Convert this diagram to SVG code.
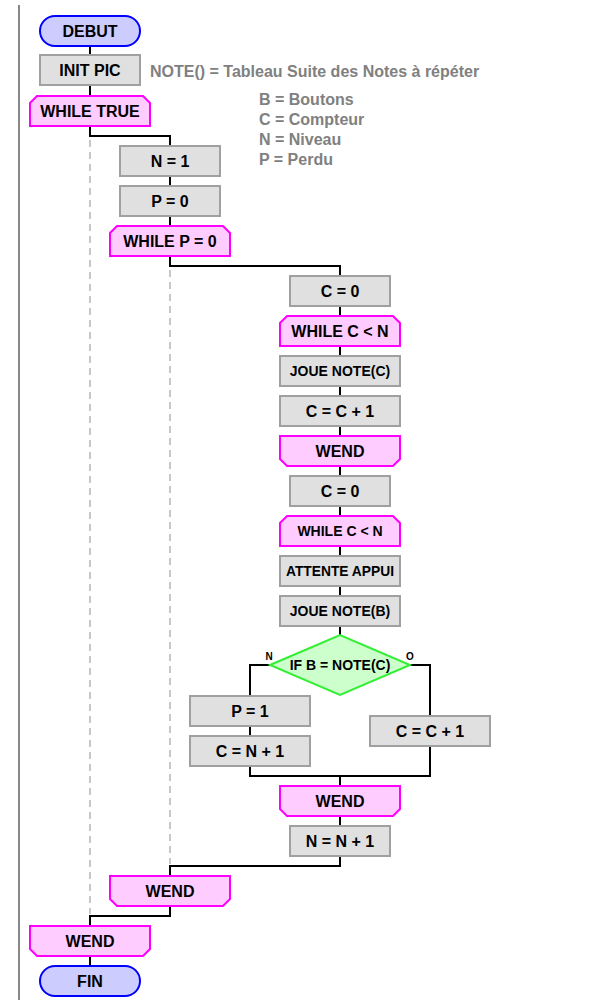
<svg xmlns="http://www.w3.org/2000/svg" width="600" height="1000" viewBox="0 0 600 1000">
<style>
.t{font-family:"Liberation Sans",Arial,sans-serif;font-weight:bold;font-size:16px;fill:#000;text-anchor:middle}
.s14{font-size:14px}
.s13{font-size:13.8px}
.box{fill:#e0e0e0;stroke:#a0a0a0;stroke-width:2}
.loop{fill:#ffccff;stroke:#ff00ff;stroke-width:2}
.term{fill:#ccccff;stroke:#0000ff;stroke-width:2}
.dec{fill:#ccffcc;stroke:#33ee33;stroke-width:2}
.c{fill:none;stroke:#000;stroke-width:2}
.d{fill:none;stroke:#c8c8c8;stroke-width:2;stroke-dasharray:7,5}
.note{font-family:"Liberation Sans",Arial,sans-serif;font-weight:bold;font-size:16px;fill:#808080}
.lbl{font-family:"Liberation Sans",Arial,sans-serif;font-weight:bold;font-size:10px;fill:#000;text-anchor:middle}
</style>
<rect x="0" y="0" width="600" height="1000" fill="#fff"/>
<line x1="19" y1="5" x2="19" y2="1000" stroke="#888" stroke-width="2"/>
<g id="guides">
<line class="d" x1="90" y1="140" x2="90" y2="914"/>
<line class="d" x1="170" y1="270" x2="170" y2="864"/>
</g>
<g id="connectors">
<polyline class="c" points="90,46 90,55"/>
<polyline class="c" points="90,85 90,96"/>
<polyline class="c" points="90,126 90,136 170,136 170,146"/>
<polyline class="c" points="170,176 170,186"/>
<polyline class="c" points="170,216 170,226"/>
<polyline class="c" points="170,256 170,266 340,266 340,276"/>
<polyline class="c" points="340,306 340,316"/>
<polyline class="c" points="340,346 340,356"/>
<polyline class="c" points="340,386 340,396"/>
<polyline class="c" points="340,426 340,436"/>
<polyline class="c" points="340,466 340,476"/>
<polyline class="c" points="340,506 340,516"/>
<polyline class="c" points="340,546 340,556"/>
<polyline class="c" points="340,586 340,596"/>
<polyline class="c" points="340,626 340,635"/>
<polyline class="c" points="270,665 250,665 250,696"/>
<polyline class="c" points="250,726 250,736"/>
<polyline class="c" points="410,665 430,665 430,716"/>
<polyline class="c" points="250,766 250,776 430,776 430,746"/>
<polyline class="c" points="340,776 340,786"/>
<polyline class="c" points="340,816 340,826"/>
<polyline class="c" points="340,856 340,866 170,866 170,876"/>
<polyline class="c" points="170,906 170,916 90,916 90,926"/>
<polyline class="c" points="90,956 90,966"/>
</g>
<g id="legend">
<text class="note" x="150" y="77">NOTE() = Tableau Suite des Notes à répéter</text>
<text class="note" x="259" y="105">B = Boutons</text>
<text class="note" x="259" y="125">C = Compteur</text>
<text class="note" x="259" y="145">N = Niveau</text>
<text class="note" x="259" y="165">P = Perdu</text>
</g>
<g id="debut"><rect class="term" x="40" y="16" width="100" height="30" rx="15"/><text class="t" x="90" y="37">DEBUT</text></g>
<g id="initpic"><rect class="box" x="40" y="55" width="100" height="30"/><text class="t" x="90" y="76">INIT PIC</text></g>
<g id="whiletrue"><polygon class="loop" points="30,103 37,96 143,96 150,103 150,126 30,126"/><text class="t" x="90" y="117">WHILE TRUE</text></g>
<g id="n1"><rect class="box" x="120" y="146" width="100" height="30"/><text class="t" x="170" y="167">N = 1</text></g>
<g id="p0"><rect class="box" x="120" y="186" width="100" height="30"/><text class="t" x="170" y="207">P = 0</text></g>
<g id="whilep"><polygon class="loop" points="110,233 117,226 223,226 230,233 230,256 110,256"/><text class="t" x="170" y="247">WHILE P = 0</text></g>
<g id="c0a"><rect class="box" x="290" y="276" width="100" height="30"/><text class="t" x="340" y="297">C = 0</text></g>
<g id="whilec1"><polygon class="loop" points="280,323 287,316 393,316 400,323 400,346 280,346"/><text class="t" x="340" y="337">WHILE C &lt; N</text></g>
<g id="jouec"><rect class="box" x="280" y="356" width="120" height="30"/><text class="t s14" x="340" y="376">JOUE NOTE(C)</text></g>
<g id="cinc1"><rect class="box" x="280" y="396" width="120" height="30"/><text class="t" x="340" y="417">C = C + 1</text></g>
<g id="wend1"><polygon class="loop" points="280,436 400,436 400,459 393,466 287,466 280,459"/><text class="t" x="340" y="457">WEND</text></g>
<g id="c0b"><rect class="box" x="290" y="476" width="100" height="30"/><text class="t" x="340" y="497">C = 0</text></g>
<g id="whilec2"><polygon class="loop" points="280,523 287,516 393,516 400,523 400,546 280,546"/><text class="t s14" x="340" y="536">WHILE C &lt; N</text></g>
<g id="attente"><rect class="box" x="280" y="556" width="120" height="30"/><text class="t s13" x="340" y="576">ATTENTE APPUI</text></g>
<g id="joueb"><rect class="box" x="280" y="596" width="120" height="30"/><text class="t s14" x="340" y="616">JOUE NOTE(B)</text></g>
<g id="ifb"><polygon class="dec" points="270,665 340,635 410,665 340,695"/><text class="t s14" x="340" y="670">IF B = NOTE(C)</text>
<text class="lbl" x="269" y="660">N</text><text class="lbl" x="410" y="660">O</text></g>
<g id="p1"><rect class="box" x="190" y="696" width="120" height="30"/><text class="t" x="250" y="717">P = 1</text></g>
<g id="cn1"><rect class="box" x="190" y="736" width="120" height="30"/><text class="t" x="250" y="757">C = N + 1</text></g>
<g id="cinc2"><rect class="box" x="370" y="716" width="120" height="30"/><text class="t" x="430" y="737">C = C + 1</text></g>
<g id="wend2"><polygon class="loop" points="280,786 400,786 400,809 393,816 287,816 280,809"/><text class="t" x="340" y="807">WEND</text></g>
<g id="nn1"><rect class="box" x="290" y="826" width="100" height="30"/><text class="t" x="340" y="847">N = N + 1</text></g>
<g id="wend3"><polygon class="loop" points="110,876 230,876 230,899 223,906 117,906 110,899"/><text class="t" x="170" y="897">WEND</text></g>
<g id="wend4"><polygon class="loop" points="30,926 150,926 150,949 143,956 37,956 30,949"/><text class="t" x="90" y="947">WEND</text></g>
<g id="fin"><rect class="term" x="40" y="966" width="100" height="30" rx="15"/><text class="t" x="90" y="987">FIN</text></g>
</svg>
